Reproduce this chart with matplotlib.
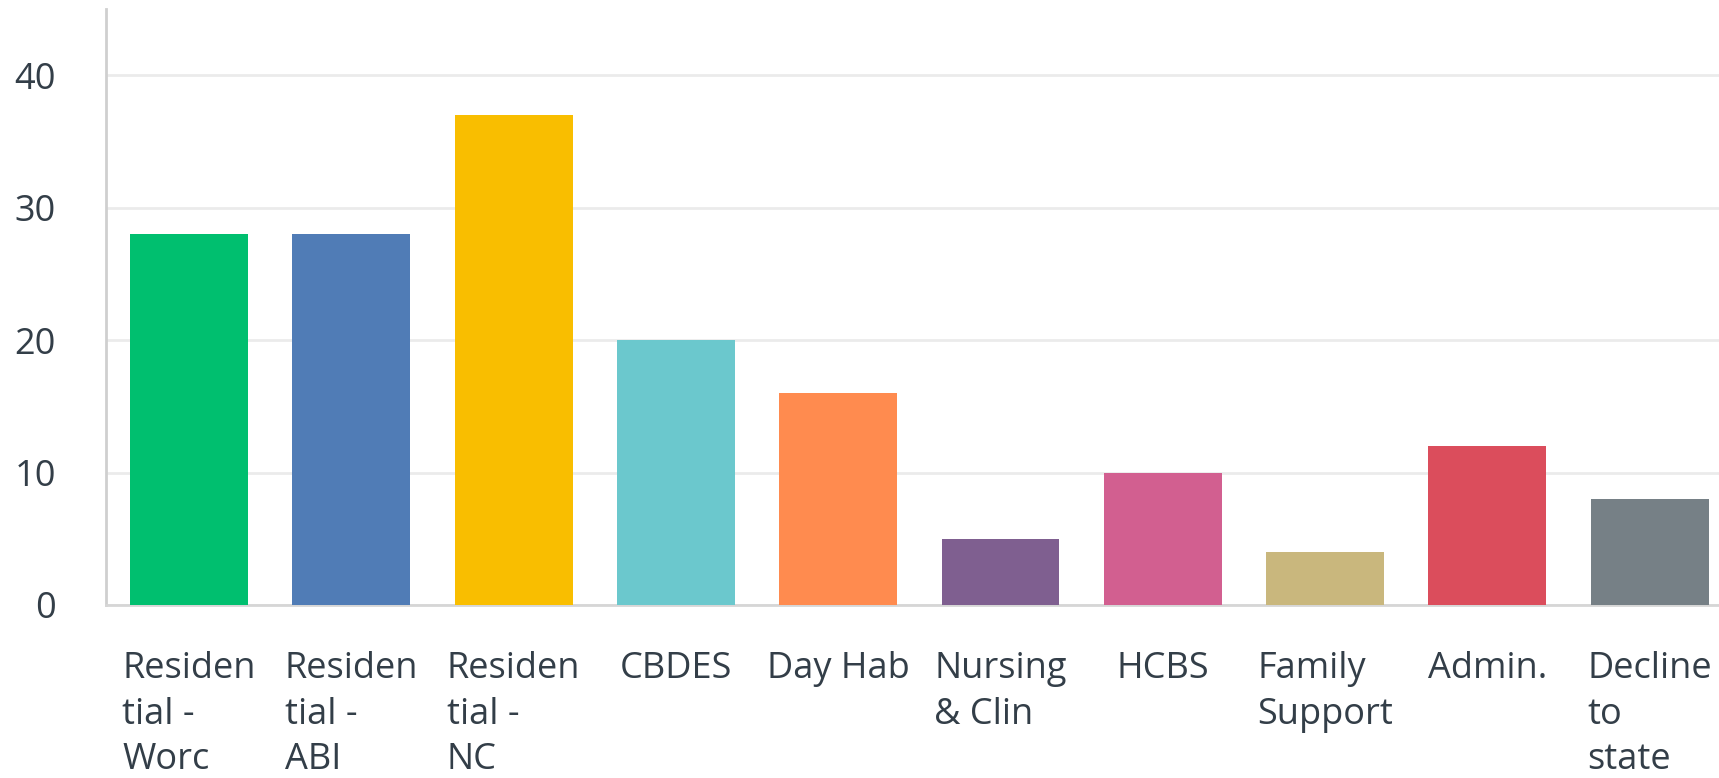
import matplotlib.pyplot as plt

categorias = ['Residen\ntial -\nWorc', 'Residen\ntial -\nABI', 'Residen\ntial -\nNC',
              'CBDES', 'Day Hab', 'Nursing\n& Clin', 'HCBS', 'Family\nSupport',
              'Admin.', 'Decline\nto\nstate']
valores = [28, 28, 37, 20, 16, 5, 10, 4, 12, 8]
cores = ['#00BF6F', '#507CB6', '#F9BE00', '#6BC8CD', '#FF8B4F',
         '#7F5F90', '#D25F90', '#C9B77D', '#DB4D5C', '#768086']
yticks = [0, 10, 20, 30, 40]

texto = '#333e48'
plt.rcParams['font.family'] = ['Open Sans', 'DejaVu Sans']

fig = plt.figure(figsize=(17.19, 7.78), dpi=100)
ax = fig.add_axes([0.0617, 0.2224, 0.9383, 0.766])

x = list(range(len(categorias)))
ax.bar(x, valores, width=0.727, color=cores, zorder=3)

ax.set_xlim(-0.511, 9.427)
ax.set_ylim(0, 45)
ax.set_yticks(yticks)
ax.set_xticks(x)
ax.set_xticklabels(categorias, multialignment='left', linespacing=1.36)

ax.grid(axis='y', color='#ebebeb', linewidth=2, zorder=0)
ax.tick_params(axis='both', length=0, labelsize=26, colors=texto)
ax.tick_params(axis='y', pad=36)
ax.tick_params(axis='x', pad=33)

for lado in ['top', 'right']:
    ax.spines[lado].set_visible(False)
ax.spines['left'].set_color('#cfcfcf')
ax.spines['left'].set_linewidth(2)
ax.spines['bottom'].set_color('#d6d6d6')
ax.spines['bottom'].set_linewidth(2)

fig.savefig('out.png', dpi=100)
